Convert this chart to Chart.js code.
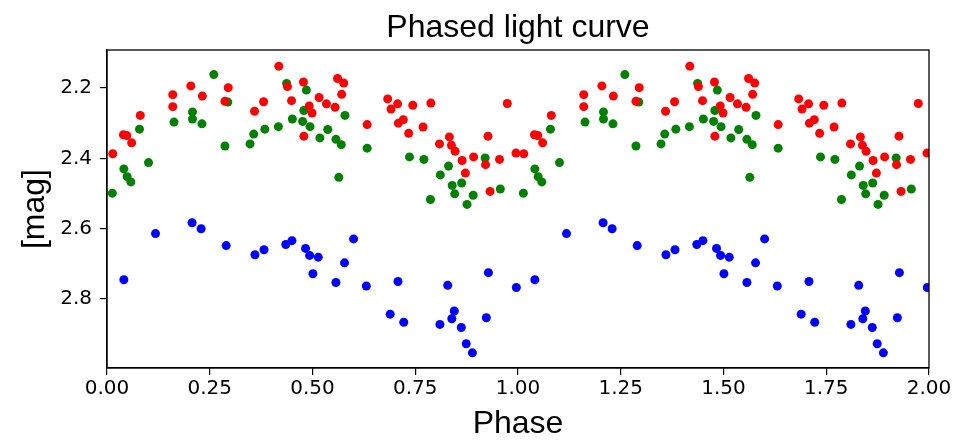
<!DOCTYPE html>
<html>
<head>
<meta charset="utf-8">
<script src="https://cdn.jsdelivr.net/npm/chart.js@4.4.0/dist/chart.umd.min.js"></script>
<style>
  html, body { margin: 0; padding: 0; background: #fff; }
  #wrap { width: 956px; height: 443px; }
</style>
</head>
<body>
<div id="wrap"><canvas id="lc"></canvas></div>
<script>
// phase (0..1) and magnitude, one pair of arrays per filter
const redPhase = [0.014, 0.040, 0.048, 0.060, 0.081, 0.160, 0.160, 0.204, 0.232, 0.295, 0.287, 0.359, 0.381,
  0.418, 0.439, 0.449, 0.478, 0.492, 0.499, 0.479, 0.516, 0.534, 0.555, 0.561, 0.576, 0.571, 0.633, 0.683,
  0.691, 0.707, 0.744, 0.788, 0.709, 0.721, 0.734, 0.769, 0.809, 0.833, 0.838, 0.847, 0.864, 0.872, 0.892,
  0.921, 0.927, 0.932, 0.955, 0.974, 0.995];
const redMag = [2.387, 2.333, 2.335, 2.356, 2.278, 2.219, 2.253, 2.194, 2.223, 2.199, 2.238, 2.266, 2.239,
  2.138, 2.196, 2.236, 2.183, 2.251, 2.271, 2.337, 2.227, 2.245, 2.255, 2.173, 2.186, 2.218, 2.304, 2.231,
  2.260, 2.245, 2.249, 2.243, 2.300, 2.290, 2.329, 2.311, 2.359, 2.339, 2.363, 2.380, 2.406, 2.442, 2.396,
  2.418, 2.337, 2.494, 2.403, 2.244, 2.385];

const greenPhase = [0.013, 0.041, 0.049, 0.058, 0.079, 0.101, 0.163, 0.208, 0.208, 0.231, 0.260, 0.294, 0.287,
  0.348, 0.357, 0.384, 0.417, 0.437, 0.451, 0.476, 0.485, 0.479, 0.494, 0.518, 0.537, 0.557, 0.570, 0.579,
  0.564, 0.633, 0.736, 0.771, 0.787, 0.811, 0.831, 0.840, 0.846, 0.863, 0.876, 0.891, 0.920, 0.957];
const greenMag = [2.499, 2.430, 2.452, 2.467, 2.317, 2.412, 2.297, 2.268, 2.288, 2.302, 2.162, 2.240, 2.365,
  2.359, 2.331, 2.317, 2.310, 2.187, 2.288, 2.295, 2.206, 2.264, 2.310, 2.342, 2.318, 2.346, 2.361, 2.278,
  2.454, 2.371, 2.396, 2.403, 2.517, 2.447, 2.422, 2.477, 2.501, 2.470, 2.531, 2.505, 2.399, 2.487];

const bluePhase = [0.041, 0.118, 0.207, 0.229, 0.290, 0.360, 0.382, 0.435, 0.450, 0.483, 0.493, 0.501, 0.514,
  0.557, 0.578, 0.600, 0.631, 0.689, 0.708, 0.722, 0.810, 0.829, 0.839, 0.845, 0.862, 0.874, 0.889, 0.923,
  0.928, 0.996];
const blueMag = [2.745, 2.614, 2.583, 2.600, 2.648, 2.674, 2.660, 2.645, 2.634, 2.656, 2.676, 2.728, 2.681,
  2.753, 2.697, 2.629, 2.763, 2.843, 2.750, 2.866, 2.872, 2.761, 2.856, 2.834, 2.881, 2.927, 2.953, 2.853,
  2.725, 2.767];

const xTicks = [0, 0.25, 0.5, 0.75, 1, 1.25, 1.5, 1.75, 2];
const yTicks = [2.2, 2.4, 2.6, 2.8];

// the curve is shown over two cycles: each point appears at phase and phase + 1
function twoCycles(phase, mag) {
  const pts = [];
  for (let k = 0; k < 2; k++) {
    phase.forEach((p, i) => pts.push({ x: p + k, y: mag[i] }));
  }
  return pts;
}

const frameAndTitle = {
  id: 'frameAndTitle',
  afterDraw(chart) {
    const { ctx, chartArea: a } = chart;
    ctx.save();
    ctx.strokeStyle = '#000';
    ctx.lineWidth = 1.3;
    ctx.strokeRect(a.left, a.top, a.right - a.left, a.bottom - a.top);
    ctx.fillStyle = '#000';
    ctx.font = '32px "Liberation Sans", Arial, sans-serif';
    ctx.textAlign = 'center';
    ctx.textBaseline = 'alphabetic';
    ctx.fillText('Phased light curve', (a.left + a.right) / 2, 37);
    ctx.restore();
  }
};

const tickFont = { family: '"DejaVu Sans", sans-serif', size: 20 };
const labelFont = { family: '"Liberation Sans", Arial, sans-serif', size: 32 };

new Chart(document.getElementById('lc'), {
  type: 'scatter',
  data: {
    datasets: [
      { data: twoCycles(redPhase, redMag), backgroundColor: '#ff0000', borderWidth: 0, pointRadius: 4.5 },
      { data: twoCycles(greenPhase, greenMag), backgroundColor: '#008000', borderWidth: 0, pointRadius: 4.5 },
      { data: twoCycles(bluePhase, blueMag), backgroundColor: '#0000ff', borderWidth: 0, pointRadius: 4.5 }
    ]
  },
  options: {
    responsive: true,
    maintainAspectRatio: false,
    animation: false,
    layout: { padding: { top: 50, right: 27, left: 0, bottom: 0 } },
    plugins: { legend: { display: false }, tooltip: { enabled: false } },
    scales: {
      x: {
        type: 'linear',
        min: 0,
        max: 2,
        afterBuildTicks: s => { s.ticks = xTicks.map(v => ({ value: v })); },
        afterFit: s => { s.height = 75; },
        grid: { drawOnChartArea: false, tickLength: 7, color: '#000', lineWidth: 1.2 },
        border: { color: '#000', width: 1.3 },
        ticks: { font: tickFont, color: '#000', padding: 2, maxRotation: 0,
          callback: v => v.toFixed(2) },
        title: { display: true, text: 'Phase', font: labelFont, color: '#000', padding: { top: 0, bottom: 0 } }
      },
      y: {
        type: 'linear',
        reverse: true,
        min: 2.092,
        max: 2.996,
        afterBuildTicks: s => { s.ticks = yTicks.map(v => ({ value: v })); },
        afterFit: s => { s.width = 107; },
        grid: { drawOnChartArea: false, tickLength: 7, color: '#000', lineWidth: 1.2 },
        border: { color: '#000', width: 1.3 },
        ticks: { font: tickFont, color: '#000', padding: 8, callback: v => v.toFixed(1) },
        title: { display: true, text: '[mag]', font: labelFont, color: '#000', padding: { top: 16, bottom: 0 } }
      }
    }
  },
  plugins: [frameAndTitle]
});
</script>
</body>
</html>
